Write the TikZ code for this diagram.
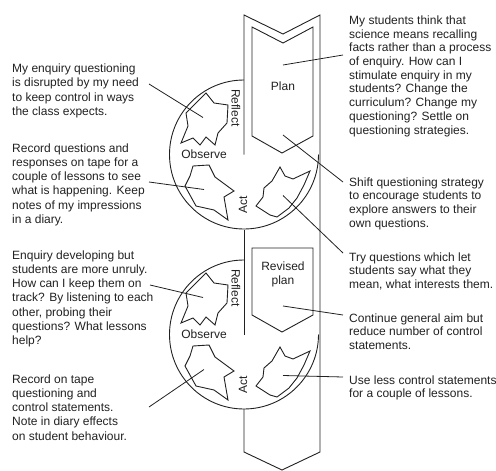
\documentclass[tikz,border=0pt]{standalone}
\usepackage{fontspec}
\setmainfont{Liberation Sans}
\usetikzlibrary{calc}
\definecolor{ink}{gray}{0.13}

\begin{document}
\begin{tikzpicture}[x=1pt,y=-1pt,
  outline/.style={draw=ink, line width=0.9pt, line join=miter},
  leader/.style={draw=ink, line width=0.8pt},
  blob/.style={draw=ink, line width=0.9pt, line join=miter},
  stagelabel/.style={inner sep=0pt, text=ink, font=\fontsize{12}{13.4}\selectfont},
  leftnote/.style={anchor=base west, inner sep=0pt, text=ink, font=\fontsize{12}{14.3}\selectfont},
  rightnote/.style={anchor=base west, inner sep=0pt, text=ink, font=\fontsize{12}{13.7}\selectfont},
  % one turn of the cycle: three rough shapes with their stage names
  stage/.pic={
    % reflect shape
    \draw[blob] (-38,-61.5) -- (-30,-51.5) -- (-16,-49.5) -- (-17,-31.5) -- (-26,-21.5)
      -- (-29,-9.5) -- (-38,-17.5) -- (-44,-9.5) -- (-51,-16.5) -- (-63,-11.5)
      -- (-56,-28.5) -- (-58,-41.5) -- cycle;
    % observe shape
    \draw[blob] (-51,11.5) -- (-35,10.5) -- (-29,22.5) -- (-10,36.5) -- (-20,42.5)
      -- (-16,65.5) -- (-30,55.5) -- (-48,51.5) -- (-59,31.5) -- (-54,21.5) -- cycle;
    % act shape
    \draw[blob] (36,12.5) -- (41,21.5) -- (49,24.5) -- (66,16.5) -- (60,30.5)
      -- (53,43.5) -- (45,53.5) -- (33,62.5) -- (26,60.5) -- (12,51.5)
      -- (19,42.5) -- (20,33.5) -- (28,26.5) -- cycle;
    \node[stagelabel, rotate=-90] (-reflect) at (-8,-46.5) {Reflect};
    \node[stagelabel] (-observe) at (-40,0) {Observe};
    \node[stagelabel, rotate=90] (-act) at (-1,50.5) {Act};
    \coordinate (-rtip) at (-41,-37);
    \coordinate (-otip) at (-40,35);
    \coordinate (-atip) at (39,41);
  },
]
\useasboundingbox (0,0) rectangle (496,471);

\coordinate (c1) at (244,154.5);
\coordinate (c2) at (244,334.5);

% the long arrow band
\draw[outline] (c1) -- (244,15) -- (283,34) -- (320,15) -- (320,452)
  -- (282,470) -- (244,452) -- (244,409);
\draw[outline] (244,229.5) -- (c2);

% cycle circles
\draw[outline] (244,80) arc[start angle=90, end angle=360, radius=74.5pt];
\draw[outline] (244,260) arc[start angle=90, end angle=360, radius=74.5pt];

% plan boxes
\draw[outline] (252,27) -- (283,43) -- (313,27) -- (313,136) -- (282,153) -- (252,136) -- cycle;
\draw[outline] (252,248) -- (313,248) -- (313,315) -- (282,332) -- (252,315) -- cycle;
\node[stagelabel] (plan) at (283,86) {Plan};
\node[stagelabel, align=center] (revised) at (283,274.5) {Revised\\plan};

\pic (s1) at (c1) {stage};
\pic (s2) at (c2) {stage};

% notes on the left
\node[leftnote] (n1) at (12,72.5) {\parbox[t]{170pt}{\raggedright
  My enquiry questioning\\is disrupted by my need\\to keep control in ways\\the class expects.}};
\node[leftnote] (n2) at (12,152) {\parbox[t]{170pt}{\raggedright
  Record questions and\\responses on tape for a\\couple of lessons to see\\what is happening. Keep\\notes of my impressions\\in a diary.}};
\node[leftnote] (n3) at (12,259) {\parbox[t]{170pt}{\raggedright
  Enquiry developing but\\students are more unruly.\\How can I keep them on\\track? By listening to each\\other, probing their\\questions? What lessons\\help?}};
\node[leftnote] (n4) at (12,383) {\parbox[t]{170pt}{\raggedright
  Record on tape\\questioning and\\control statements.\\Note in diary effects\\on student behaviour.}};

% notes on the right
\node[rightnote] (m1) at (349,24.5) {\parbox[t]{170pt}{\raggedright
  My students think that\\science means recalling\\facts rather than a process\\of enquiry. How can I\\stimulate enquiry in my\\students? Change the\\curriculum? Change my\\questioning? Settle on\\questioning strategies.}};
\node[rightnote] (m2) at (349,186) {\parbox[t]{170pt}{\raggedright
  Shift questioning strategy\\to encourage students to\\explore answers to their\\own questions.}};
\node[rightnote] (m3) at (349,261) {\parbox[t]{170pt}{\raggedright
  Try questions which let\\students say what they\\mean, what interests them.}};
\node[rightnote] (m4) at (349,322) {\parbox[t]{170pt}{\raggedright
  Continue general aim but\\reduce number of control\\statements.}};
\node[rightnote] (m5) at (349,384) {\parbox[t]{170pt}{\raggedright
  Use less control statements\\for a couple of lessons.}};

% leader ends beside the notes
\coordinate (n1e) at (149,84);
\coordinate (n2e) at (149,182);
\coordinate (n3e) at (150,285);
\coordinate (n4e) at (149,407);
\coordinate (m1e) at (343,55);
\coordinate (m2e) at (343,182);
\coordinate (m3e) at (343,253);
\coordinate (m4e) at (343,315);
\coordinate (m5e) at (343,377);
\coordinate (plantip) at (283,65);
\coordinate (planfoot) at (283,135);
\coordinate (revtip) at (283,306);

% leaders
\draw[leader] (n1e) -- (s1-rtip);
\draw[leader] (n2e) -- (s1-otip);
\draw[leader] (n3e) -- (s2-rtip);
\draw[leader] (n4e) -- (s2-otip);
\draw[leader] (m1e) -- (plantip);
\draw[leader] (m2e) -- (planfoot);
\draw[leader] (m3e) -- (s1-atip);
\draw[leader] (m4e) -- (revtip);
\draw[leader] (m5e) -- (s2-atip);
\end{tikzpicture}
\end{document}
